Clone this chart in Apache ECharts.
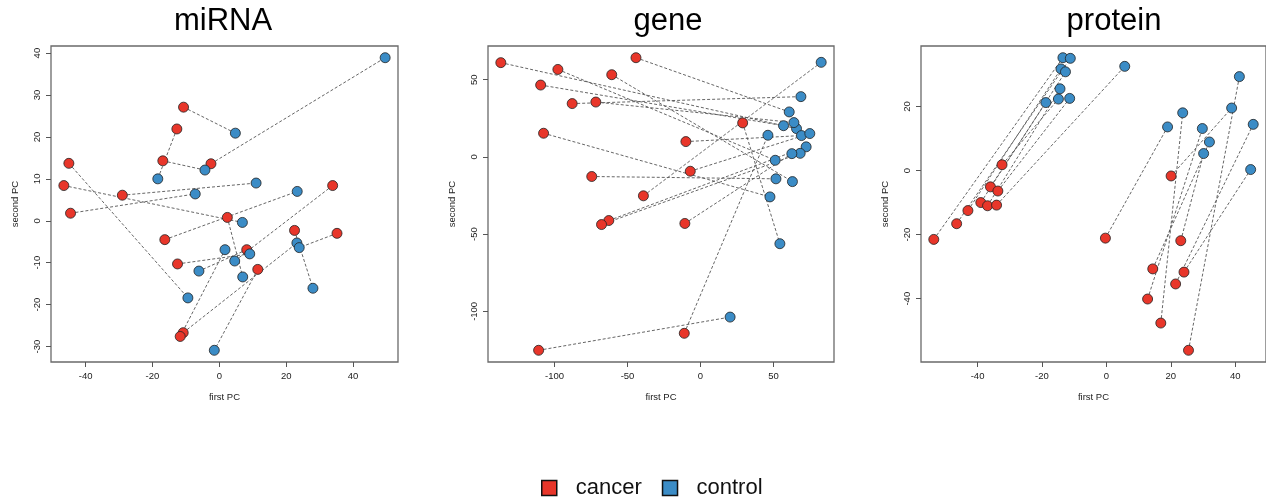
<!DOCTYPE html>
<html>
<head>
<meta charset="utf-8">
<script src="https://cdn.jsdelivr.net/npm/echarts@6/dist/echarts.min.js"></script>
<style>
  html, body { margin: 0; padding: 0; background: #fff; }
  #main { width: 1266px; height: 500px; }
</style>
</head>
<body>
<div id="main"></div>
<script>
// cancer[i] is paired with control[i] (dashed segment)
var mirnaCancerX  = [-10.7, -12.7, -16.9, -45.0, -46.5, -29.0, -44.5, -16.3, -12.5, -10.8, -11.7, -2.5, 33.9, 2.4, 22.5, 35.2, 8.2, 11.5];
var mirnaCancerY  = [27.1, 21.9, 14.3, 13.7, 8.4, 6.1, 1.8, -4.5, -10.3, -26.7, -27.6, 13.6, 8.4, 0.8, -2.3, -3.0, -6.9, -11.6];
var mirnaControlX = [4.8, -18.4, -4.3, -9.4, 6.9, 11.0, -7.2, 23.3, 9.1, 23.2, 1.7, 49.6, 4.6, 7.0, 28.0, 23.9, -6.1, -1.5];
var mirnaControlY = [20.9, 10.0, 12.1, -18.4, -0.4, 9.0, 6.4, 7.0, -7.9, -5.3, -6.9, 38.9, -9.6, -13.4, -16.1, -6.4, -12.0, -30.9];

var geneCancerX  = [-136.8, -97.7, -60.8, -109.5, -87.9, -71.7, -107.5, -74.5, -62.8, -67.8, -110.9, -44.2, 28.9, -10.0, -7.0, -39.1, -10.7, -11.1];
var geneCancerY  = [61.0, 56.6, 53.2, 46.5, 34.5, 35.5, 15.3, -12.7, -41.2, -43.8, -125.2, 64.2, 22.0, 9.9, -9.3, -25.2, -43.1, -114.2];
var geneControlX = [65.8, 51.2, 63.0, 56.9, 68.8, 64.0, 47.6, 51.7, 72.4, 68.3, 20.3, 60.8, 54.4, 69.2, 74.9, 82.7, 62.6, 46.2];
var geneControlY = [18.3, -2.2, -16.0, 20.2, 39.0, 22.2, -25.9, -14.2, 6.5, 2.3, -103.7, 29.1, -56.2, 13.8, 15.1, 61.2, 2.1, 14.0];

var proteinCancerX  = [-53.6, -46.5, -43.0, -39.0, -36.9, -36.0, -33.7, -32.4, -34.1, -0.3, 20.1, 23.1, 14.4, 24.1, 21.5, 12.8, 16.9, 25.5];
var proteinCancerY  = [-21.5, -16.6, -12.5, -10.0, -11.0, -5.1, -6.4, 1.8, -10.8, -21.1, -1.7, -21.9, -30.7, -31.7, -35.4, -40.1, -47.6, -56.1];
var proteinControlX = [-13.5, -11.2, -14.1, -12.7, -14.4, -18.8, -11.4, -14.9, 5.7, 19.0, 38.9, 30.2, 32.0, 44.8, 45.6, 29.8, 23.7, 41.3];
var proteinControlY = [35.2, 35.0, 31.7, 30.8, 25.5, 21.2, 22.5, 22.3, 32.5, 13.6, 19.5, 5.3, 8.9, 0.3, 14.4, 13.1, 18.0, 29.3];

var panelTitles = ['miRNA', 'gene', 'protein'];
var xTicks = [[-40, -20, 0, 20, 40], [-100, -50, 0, 50], [-40, -20, 0, 20, 40]];
var yTicks = [[-30, -20, -10, 0, 10, 20, 30, 40], [-100, -50, 0, 50], [-40, -20, 0, 20]];

var panels = [
    [mirnaCancerX, mirnaCancerY, mirnaControlX, mirnaControlY],
    [geneCancerX, geneCancerY, geneControlX, geneControlY],
    [proteinCancerX, proteinCancerY, proteinControlX, proteinControlY]
];

var RED = '#e8362a';
var BLUE = '#3b8cc6';
var FONT = 'Liberation Sans, Arial, sans-serif';

var gridPos = [
    {left: 51, top: 46, width: 347, height: 316},
    {left: 488, top: 46, width: 346, height: 316},
    {left: 921, top: 46, width: 346, height: 316}
];
var titleCenter = [218, 663, 1109];

// R-like range: data range padded by 4% on each side
function lim(a, b) {
    var all = a.concat(b);
    var lo = Math.min.apply(null, all), hi = Math.max.apply(null, all);
    var pad = (hi - lo) * 0.04;
    return [lo - pad, hi + pad];
}

function zip(xs, ys) {
    var out = [];
    for (var i = 0; i < xs.length; i++) out.push([xs[i], ys[i]]);
    return out;
}

var grids = [], xAxes = [], yAxes = [], series = [], titles = [];

for (var p = 0; p < panels.length; p++) {
    var d = panels[p];
    var xl = lim(d[0], d[2]);
    var yl = lim(d[1], d[3]);

    grids.push({
        left: gridPos[p].left, top: gridPos[p].top,
        width: gridPos[p].width, height: gridPos[p].height,
        show: true, borderColor: '#6a6a6a', borderWidth: 1.3, backgroundColor: 'transparent'
    });

    titles.push({
        text: panelTitles[p], left: titleCenter[p], top: 1, textAlign: 'center',
        textStyle: {fontFamily: FONT, fontSize: 31, fontWeight: 'normal', color: '#000'}
    });

    xAxes.push({
        type: 'value', gridIndex: p, min: xl[0], max: xl[1], position: 'bottom',
        name: 'first PC', nameLocation: 'middle', nameGap: 30,
        nameTextStyle: {fontFamily: FONT, fontSize: 9.5, color: '#222'},
        axisLine: {show: false, onZero: false},
        axisTick: {show: true, inside: false, length: 5, customValues: xTicks[p], lineStyle: {color: '#555'}},
        axisLabel: {customValues: xTicks[p], margin: 9, fontFamily: FONT, fontSize: 9.5, color: '#222'},
        splitLine: {show: false}
    });

    yAxes.push({
        type: 'value', gridIndex: p, min: yl[0], max: yl[1], position: 'left',
        name: 'second PC', nameLocation: 'middle', nameGap: 31,
        nameTextStyle: {fontFamily: FONT, fontSize: 9.5, color: '#222'},
        axisLine: {show: false, onZero: false},
        axisTick: {show: true, inside: false, length: 5, customValues: yTicks[p], lineStyle: {color: '#555'}},
        axisLabel: {customValues: yTicks[p], rotate: 90, margin: 9, fontFamily: FONT, fontSize: 9.5, color: '#222'},
        splitLine: {show: false}
    });

    var segs = [];
    for (var i = 0; i < d[0].length; i++) {
        segs.push({coords: [[d[0][i], d[1][i]], [d[2][i], d[3][i]]]});
    }
    series.push({
        type: 'lines', coordinateSystem: 'cartesian2d', xAxisIndex: p, yAxisIndex: p,
        data: segs, silent: true, z: 1,
        lineStyle: {color: '#555', width: 1, type: [3, 2], opacity: 0.9}
    });
    series.push({
        name: 'cancer', type: 'scatter', xAxisIndex: p, yAxisIndex: p,
        data: zip(d[0], d[1]), symbolSize: 10, z: 3, silent: true,
        itemStyle: {color: RED, borderColor: '#222', borderWidth: 0.8, opacity: 1}
    });
    series.push({
        name: 'control', type: 'scatter', xAxisIndex: p, yAxisIndex: p,
        data: zip(d[2], d[3]), symbolSize: 10, z: 3, silent: true,
        itemStyle: {color: BLUE, borderColor: '#222', borderWidth: 0.8, opacity: 1}
    });
}

var chart = echarts.init(document.getElementById('main'), null, {renderer: 'canvas'});
chart.setOption({
    animation: false,
    backgroundColor: '#fff',
    title: titles,
    grid: grids,
    xAxis: xAxes,
    yAxis: yAxes,
    legend: {
        left: 536, top: 472, icon: 'rect', itemWidth: 15, itemHeight: 15, itemGap: 20,
        selectedMode: false,
        textStyle: {fontFamily: FONT, fontSize: 22, color: '#111', padding: [0, 0, 0, 14]},
        data: [
            {name: 'cancer', itemStyle: {color: RED, borderColor: '#111', borderWidth: 1.5}},
            {name: 'control', itemStyle: {color: BLUE, borderColor: '#111', borderWidth: 1.5}}
        ]
    },
    series: series
});
</script>
</body>
</html>
